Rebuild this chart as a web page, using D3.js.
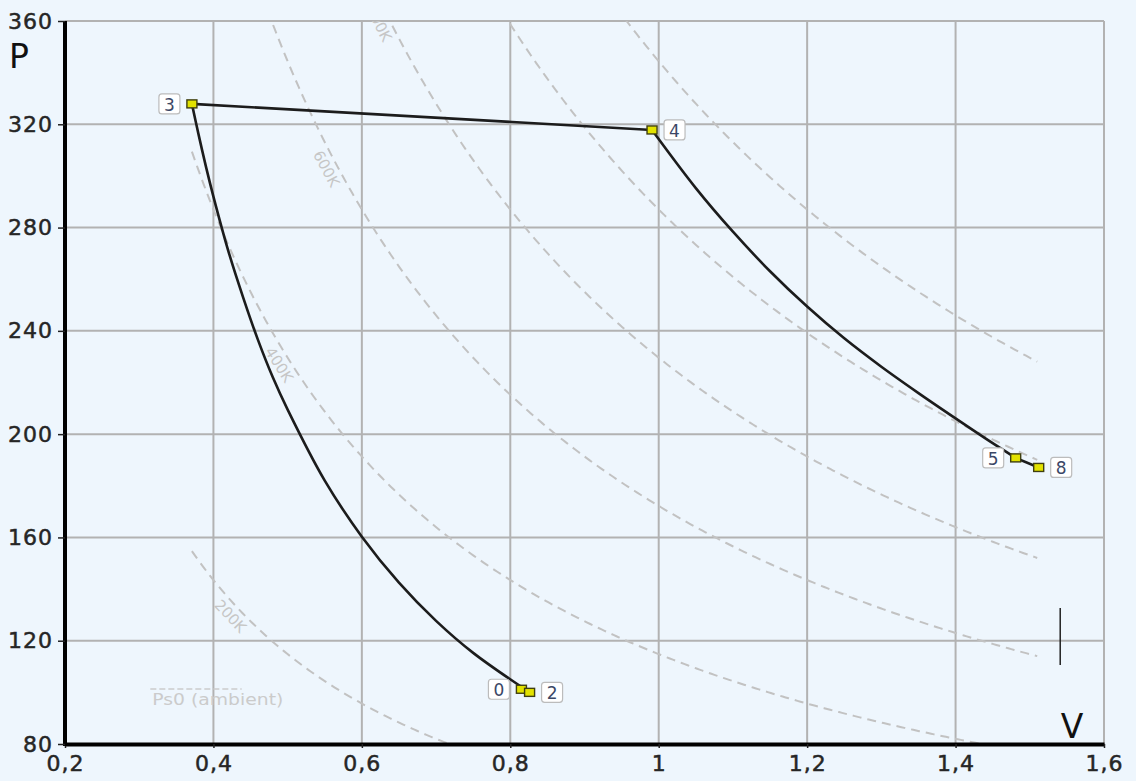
<!DOCTYPE html>
<html><head><meta charset="utf-8">
<script src="https://cdn.jsdelivr.net/npm/d3@7"></script>
<style>html,body{margin:0;padding:0;background:#eef6fd;} svg{display:block;}</style>
</head><body><svg id="c" width="1136" height="781"></svg>
<script>
// ---- data ----
const xTicks = [0.2, 0.4, 0.6, 0.8, 1.0, 1.2, 1.4, 1.6];
const yTicks = [80, 120, 160, 200, 240, 280, 320, 360];
const pointIds = ["0", "2", "3", "4", "5", "8"];
const pointV = [0.815, 0.826, 0.371, 0.991, 1.481, 1.512];
const pointP = [101.2, 100.0, 327.9, 317.8, 190.8, 187.1];
const compressionV = [0.371, 0.380, 0.390, 0.400, 0.420, 0.440, 0.460, 0.480, 0.500, 0.550, 0.600, 0.650, 0.700, 0.750, 0.826];
const compressionP = [327.9, 316.0, 303.5, 292.0, 271.0, 253.0, 236.5, 222.0, 209.5, 182.0, 160.3, 142.5, 127.7, 115.3, 100.0];
const expansionV = [0.991, 1.050, 1.100, 1.150, 1.200, 1.250, 1.300, 1.350, 1.400, 1.450, 1.481];
const expansionP = [317.8, 295.3, 278.4, 263.1, 249.4, 237.1, 226.1, 215.9, 206.1, 196.5, 190.8];
const isoTemps = [200, 400, 600, 800, 1000, 1200];
const isoLabelTemps = [200, 400, 600, 800];
const isoLabelV = [0.4335, 0.501, 0.565, 0.636];
const gasR = 0.287;            // kJ/(kg K)
const isoVRange = [0.371, 1.51];
const ambientP = 101.3;
const ambientV = [0.315, 0.438];
const ambientLabel = "Ps0 (ambient)";
const cursorMark = {v: 1.541, p0: 110.6, p1: 132.7};

// ---- layout ----
const W = 1136, H = 781;
const L = 65, R = 1104, T = 21, B = 744;
const FONT = "'DejaVu Sans', Verdana, sans-serif";
const svg = d3.select("#c");
svg.append("rect").attr("width", W).attr("height", H).attr("fill", "#eef6fd");

const x = d3.scaleLinear().domain([0.2, 1.6]).range([L, R]);
const y = d3.scaleLinear().domain([80, 360]).range([B, T]);

// grid
const grid = svg.append("g").attr("stroke", "#b2b2b2").attr("stroke-width", 2);
grid.selectAll(".gx").data(xTicks).join("line")
  .attr("x1", d => x(d)).attr("x2", d => x(d)).attr("y1", T).attr("y2", B);
grid.selectAll(".gy").data(yTicks).join("line")
  .attr("x1", L).attr("x2", R).attr("y1", d => y(d)).attr("y2", d => y(d));

svg.append("clipPath").attr("id", "plot").append("rect")
  .attr("x", L).attr("y", T).attr("width", R - L).attr("height", B - T);
const plot = svg.append("g").attr("clip-path", "url(#plot)");

// isotherms
const isoLine = d3.line().x(d => x(d[0])).y(d => y(d[1]));
isoTemps.forEach(t => {
  const pts = d3.range(isoVRange[0], isoVRange[1] + 1e-9, 0.004).map(v => [v, gasR * t / v]);
  pts.push([isoVRange[1], gasR * t / isoVRange[1]]);
  plot.append("path").attr("d", isoLine(pts)).attr("fill", "none")
    .attr("stroke", "#c2c2c2").attr("stroke-width", 2).attr("stroke-dasharray", "9,6");
});
// isotherm labels
isoLabelTemps.forEach((t, i) => {
  const v = isoLabelV[i];
  const px = x(v), py = y(gasR * t / v);
  const dv = 0.001;
  const dx = x(v + dv) - px, dy = y(gasR * t / (v + dv)) - py;
  const th = Math.atan2(dy, dx);
  const off = 11;
  const cx = px - Math.sin(th) * off, cy = py + Math.cos(th) * off;
  plot.append("text").attr("transform", `translate(${cx},${cy}) rotate(${th * 180 / Math.PI})`)
    .attr("text-anchor", "middle").attr("dominant-baseline", "central")
    .attr("font-family", FONT).attr("font-size", 15).attr("fill", "#c6c6c6").text(t + "K");
});

// ambient marker
svg.append("line").attr("x1", x(ambientV[0])).attr("x2", x(ambientV[1]))
  .attr("y1", y(ambientP)).attr("y2", y(ambientP))
  .attr("stroke", "#cbcbcb").attr("stroke-width", 1.5).attr("stroke-dasharray", "6,3");
svg.append("text").attr("x", x(ambientV[0]) + 2).attr("y", y(ambientP) + 16)
  .attr("font-family", FONT).attr("font-size", 16.5).attr("fill", "#cbcbcb")
  .attr("textLength", 131).attr("lengthAdjust", "spacingAndGlyphs").text(ambientLabel);

// axes
const fmt = d => d3.format("~g")(d).replace(".", ",");
const ax = svg.append("g").attr("transform", `translate(0,${B})`)
  .call(d3.axisBottom(x).tickValues(xTicks).tickFormat(fmt).tickSize(4).tickSizeOuter(0).tickPadding(7));
const ay = svg.append("g").attr("transform", `translate(${L},0)`)
  .call(d3.axisLeft(y).tickValues(yTicks).tickFormat(d => d).tickSize(7).tickSizeOuter(0).tickPadding(5));
[ax, ay].forEach(g => {
  g.select(".domain").attr("stroke", "#000").attr("stroke-width", 4);
  g.selectAll(".tick line").attr("stroke", "#222").attr("stroke-width", 1.5);
  g.selectAll(".tick text").attr("font-family", FONT).attr("font-size", 22).attr("fill", "#262626")
    .attr("stroke", "#262626").attr("stroke-width", 0.5).attr("letter-spacing", 1);
});
ay.select(".domain").attr("d", `M0,${T}V${B + 2}`);

// process lines
const procLine = d3.line().x(d => x(d[0])).y(d => y(d[1])).curve(d3.curveCatmullRom.alpha(0.5));
const comp = compressionV.map((v, i) => [v, compressionP[i]]);
const expn = expansionV.map((v, i) => [v, expansionP[i]]);
const lineStyle = s => s.attr("fill", "none").attr("stroke", "#1c1c1c").attr("stroke-width", 2.6);
svg.append("path").attr("d", procLine(comp)).call(lineStyle);
svg.append("path").attr("d", procLine(expn)).call(lineStyle);
const straight = d3.line().x(d => x(d[0])).y(d => y(d[1]));
const pt = id => { const i = pointIds.indexOf(id); return [pointV[i], pointP[i]]; };
svg.append("path").attr("d", straight([pt("3"), pt("4")])).call(lineStyle);
svg.append("path").attr("d", straight([pt("5"), pt("8")])).call(lineStyle);
svg.append("path").attr("d", straight([pt("0"), pt("2")])).call(lineStyle);

// markers
const labelSide = {"0": -1, "2": 1, "3": -1, "4": 1, "5": -1, "8": 1};
pointIds.forEach((id, i) => {
  const px = x(pointV[i]), py = y(pointP[i]);
  svg.append("rect").attr("x", px - 5).attr("y", py - 4).attr("width", 10).attr("height", 8)
    .attr("fill", "#e2e200").attr("stroke", "#3f3f10").attr("stroke-width", 1.4);
});
pointIds.forEach((id, i) => {
  const px = x(pointV[i]), py = y(pointP[i]);
  const s = labelSide[id];
  const bw = 21, bh = 20, gap = 12;
  const bx = s > 0 ? px + gap : px - gap - bw;
  svg.append("rect").attr("x", bx).attr("y", py - bh / 2).attr("width", bw).attr("height", bh)
    .attr("rx", 3).attr("fill", "#fff").attr("stroke", "#bcbcbc").attr("stroke-width", 1.2);
  svg.append("text").attr("x", bx + bw / 2).attr("y", py + 1).attr("text-anchor", "middle")
    .attr("dominant-baseline", "central").attr("font-family", FONT).attr("font-size", 17)
    .attr("fill", "#3b4766").text(id);
});

// cursor artifact
svg.append("line").attr("x1", x(cursorMark.v)).attr("x2", x(cursorMark.v))
  .attr("y1", y(cursorMark.p0)).attr("y2", y(cursorMark.p1)).attr("stroke", "#222").attr("stroke-width", 1.5);

// axis titles
svg.append("text").attr("x", 9).attr("y", 68).attr("font-family", FONT).attr("font-size", 33)
  .attr("fill", "#111").text("P");
svg.append("text").attr("x", 1072).attr("y", 738).attr("text-anchor", "middle").attr("font-family", FONT)
  .attr("font-size", 33).attr("fill", "#111").text("V");
</script></body></html>
